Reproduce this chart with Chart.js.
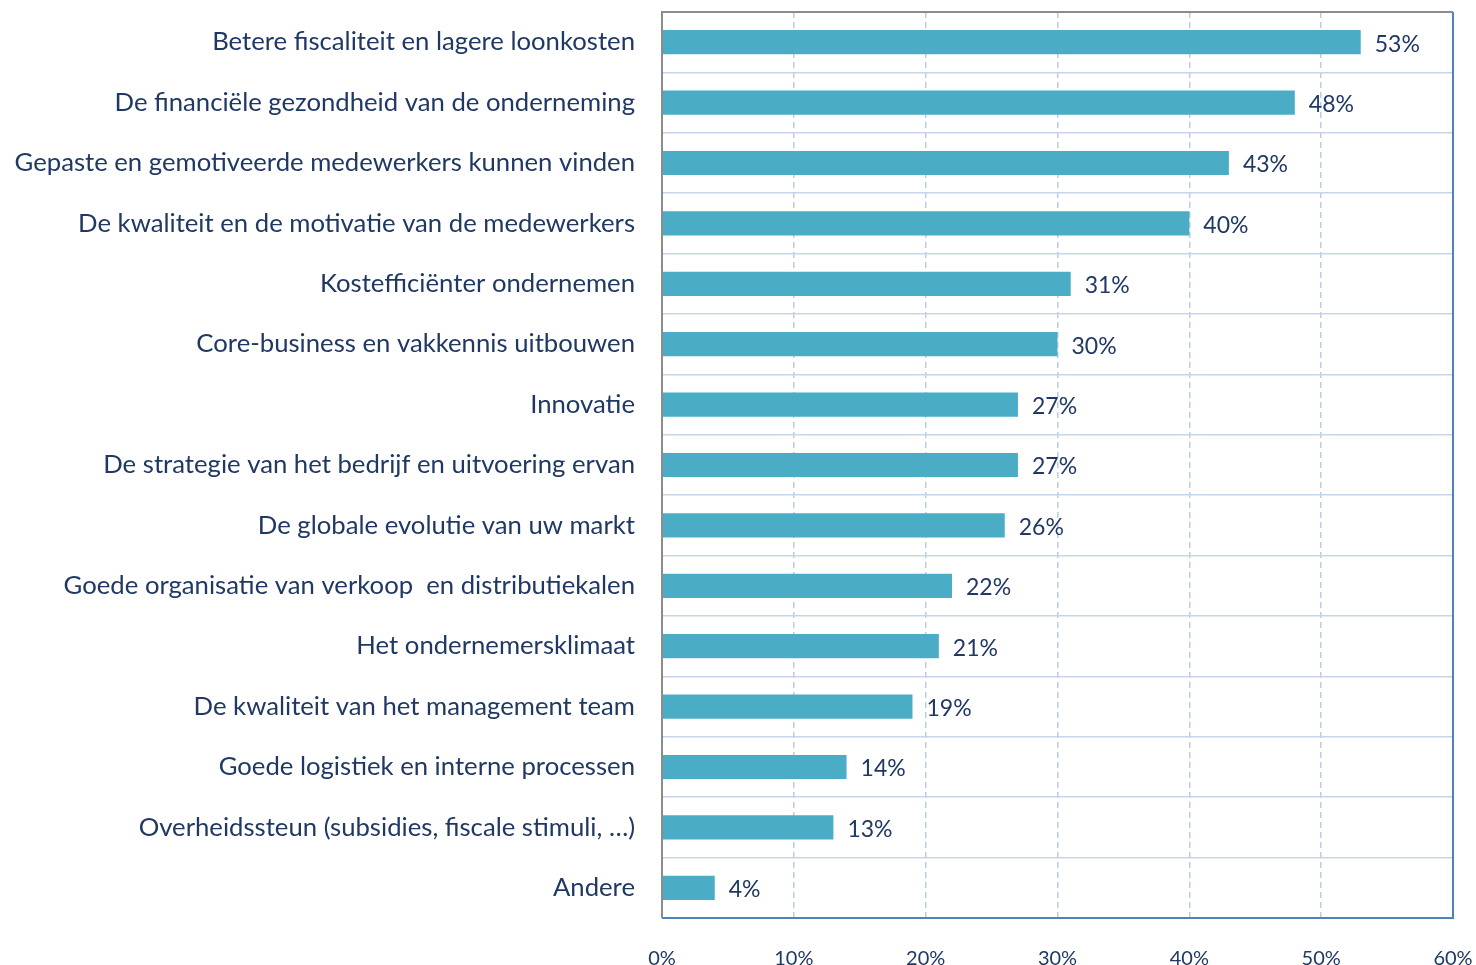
<!DOCTYPE html>
<html>
<head>
<meta charset="utf-8">
<script src="https://cdn.jsdelivr.net/npm/chart.js@4.4.0/dist/chart.umd.min.js"></script>
<style>
html,body{margin:0;padding:0;background:#fff;}
#wrap{position:relative;width:1476px;height:965px;}
</style>
</head>
<body>
<div id="wrap"><canvas id="c" width="1476" height="965"></canvas></div>
<script>
const categories = [
  "Betere fiscaliteit en lagere loonkosten",
  "De financiële gezondheid van de onderneming",
  "Gepaste en gemotiveerde medewerkers kunnen vinden",
  "De kwaliteit en de motivatie van de medewerkers",
  "Kostefficiënter ondernemen",
  "Core-business en vakkennis uitbouwen",
  "Innovatie",
  "De strategie van het bedrijf en uitvoering ervan",
  "De globale evolutie van uw markt",
  "Goede organisatie van verkoop  en distributiekalen",
  "Het ondernemersklimaat",
  "De kwaliteit van het management team",
  "Goede logistiek en interne processen",
  "Overheidssteun (subsidies, fiscale stimuli, …)",
  "Andere"
];
const values = [53, 48, 43, 40, 31, 30, 27, 27, 26, 22, 21, 19, 14, 13, 4];
const xTicks = [0, 10, 20, 30, 40, 50, 60];

const FONT = "Lato, 'Open Sans', sans-serif";
const TEXT = "#1f3864";

const valueLabels = {
  id: 'valueLabels',
  afterDatasetsDraw(chart) {
    const ctx = chart.ctx;
    const meta = chart.getDatasetMeta(0);
    ctx.save();
    ctx.font = "23px " + FONT;
    ctx.fillStyle = TEXT;
    ctx.textAlign = 'left';
    ctx.textBaseline = 'middle';
    meta.data.forEach((bar, i) => {
      ctx.fillText(values[i] + '%', bar.x + 14, bar.y + 2);
    });
    ctx.restore();
  }
};

const frame = {
  id: 'frame',
  afterDraw(chart) {
    const a = chart.chartArea;
    const ctx = chart.ctx;
    ctx.save();
    ctx.lineWidth = 2;
    ctx.strokeStyle = '#4f81bd';
    ctx.beginPath();
    ctx.moveTo(a.right, a.top); ctx.lineTo(a.right, a.bottom); ctx.lineTo(a.left, a.bottom);
    ctx.stroke();
    ctx.strokeStyle = '#8c8c8c';
    ctx.beginPath();
    ctx.moveTo(a.left, a.bottom); ctx.lineTo(a.left, a.top); ctx.lineTo(a.right, a.top);
    ctx.stroke();
    ctx.restore();
  }
};

new Chart(document.getElementById('c'), {
  type: 'bar',
  data: {
    labels: categories,
    datasets: [{
      data: values,
      backgroundColor: '#4bacc6',
      borderWidth: 0,
      barPercentage: 0.4,
      categoryPercentage: 1.0
    }]
  },
  options: {
    indexAxis: 'y',
    responsive: false,
    animation: false,
    layout: { autoPadding: false, padding: { left: 0, right: 23, top: 12, bottom: 0 } },
    plugins: { legend: { display: false }, tooltip: { enabled: false } },
    scales: {
      x: {
        min: 0, max: 60,
        afterBuildTicks(axis) { axis.ticks = xTicks.map(v => ({ value: v })); },
        afterFit(axis) { axis.height = 47; axis.paddingLeft = 0; axis.paddingRight = 0; },
        grid: { color: '#b9cde5', lineWidth: 1.5, drawTicks: false },
        border: { display: false, dash: [6, 4] },
        ticks: {
          padding: 29,
          color: TEXT,
          font: { family: FONT, size: 20 },
          maxRotation: 0,
          callback: v => v + '%'
        }
      },
      y: {
        afterFit(axis) { axis.width = 662; axis.paddingTop = 0; axis.paddingBottom = 0; },
        grid: { color: '#c5d5ea', lineWidth: 1.5, drawTicks: false, offset: true },
        border: { display: false },
        ticks: {
          padding: 27,
          color: TEXT,
          font: { family: FONT, size: 25.7 },
          autoSkip: false
        }
      }
    }
  },
  plugins: [valueLabels, frame]
});
</script>
</body>
</html>
